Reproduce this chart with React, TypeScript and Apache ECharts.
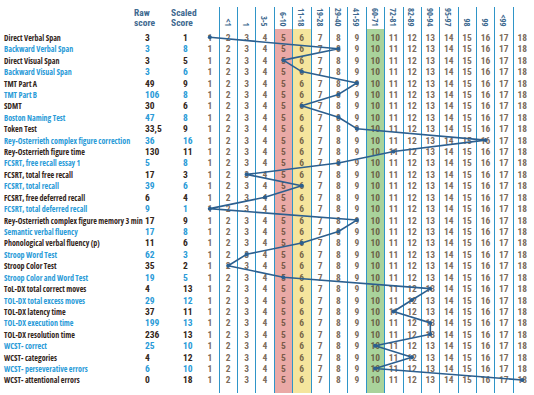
import React, { useEffect, useRef } from "react";
import * as echarts from "echarts";

const rowNames = [
  "Direct Verbal Span",
  "Backward Verbal Span",
  "Direct Visual Span",
  "Backward Visual Span",
  "TMT Part A",
  "TMT Part B",
  "SDMT",
  "Boston Naming Test",
  "Token Test",
  "Rey-Osterrieth complex figure correction",
  "Rey-Osterrieth figure time",
  "FCSRT, free recall essay 1",
  "FCSRT, total free recall",
  "FCSRT, total recall",
  "FCSRT, free deferred recall",
  "FCSRT, total deferred recall",
  "Rey-Osterrieth complex figure memory 3 min",
  "Semantic verbal fluency",
  "Phonological verbal fluency (p)",
  "Stroop Word Test",
  "Stroop Color Test",
  "Stroop Color and Word Test",
  "ToL-DX total correct moves",
  "TOL-DX total excess moves",
  "TOL-DX latency time",
  "TOL-DX execution time",
  "TOL-DX resolution time",
  "WCST- correct",
  "WCST- categories",
  "WCST- perseverative errors",
  "WCST- attentional errors",
];

const rawScores = [
  "3", "3", "3", "3", "49", "106", "30", "47", "33,5", "36", "130", "5", "17", "39", "6", "9",
  "17", "17", "11", "62", "35", "19", "4", "29", "37", "199", "236", "25", "4", "6", "0",
];

const scaledScores = [
  1, 8, 5, 6, 9, 8, 6, 8, 9, 16, 11, 8, 3, 6, 4, 1, 9, 8, 6, 3, 2, 5, 13, 12, 11, 13, 13, 10, 12, 10, 18,
];

const columns = ["1", "2", "3", "4", "5", "6", "7", "8", "9", "10", "11", "12", "13", "14", "15", "16", "17", "18"];

const percentileLabels = [
  "", "<1", "1", "3-5", "6-10", "11-18", "19-28", "29-40", "41-59", "60-71",
  "72-81", "82-89", "90-94", "95-97", "98", "99", "<99", "",
];

const bandColumns = ["5", "6", "10"];
const bandColors = ["#eaa9a6", "#f5e59d", "#a9d39b"];

const FONT = "'Open Sans', 'Roboto', sans-serif";
const NUMFONT = "Roboto, 'Open Sans', sans-serif";
const DARK = "#33261a";
const BLUE = "#2a9bd8";
const DIGIT = "#5a4530";
const HEAD = "#3f6a90";

const GL = 200.6;
const GR = 2.6;
const ROW_TOP = 31.6;
const ROW_BOTTOM = 9.3;

const rowColor = (_v: any, i: number) => (i % 2 ? BLUE : DARK);

function labelAxis(gridIndex: number, data: string[], margin: number, fontSize: number, fontFamily: string) {
  return {
    gridIndex,
    type: "category",
    data,
    inverse: true,
    boundaryGap: true,
    axisLine: { show: false },
    axisTick: { show: false },
    splitLine: { show: false },
    axisLabel: {
      show: true,
      interval: 0,
      align: "left",
      margin,
      color: rowColor,
      fontFamily,
      fontSize,
      fontWeight: "bold",
    },
  };
}

export default function App() {
  const ref = useRef<HTMLDivElement>(null);
  useEffect(() => {
    if (!ref.current) return;
    const chart = echarts.init(ref.current, null, { renderer: "svg" });

    const digitData: any[] = [];
    rowNames.forEach((_, r) => {
      columns.forEach((c) => {
        digitData.push([c, r]);
      });
    });

    const hiddenX = (gridIndex: number) => ({
      gridIndex,
      type: "category",
      data: columns,
      boundaryGap: true,
      axisLine: { show: false },
      axisTick: { show: false },
      axisLabel: { show: false },
      splitLine: { show: false },
    });

    const option: any = {
      animation: false,
      backgroundColor: "#ffffff",
      grid: [
        { left: GL, right: GR, top: 7, bottom: 2 },
        { left: GL, right: GR, top: 29, bottom: 2 },
        { left: GL, right: GR, top: ROW_TOP, bottom: ROW_BOTTOM },
        { left: 145, width: 1, top: ROW_TOP, bottom: ROW_BOTTOM },
        { left: 183, width: 1, top: ROW_TOP, bottom: ROW_BOTTOM },
      ],
      xAxis: [
        {
          gridIndex: 0,
          type: "category",
          data: columns,
          boundaryGap: true,
          z: 2,
          axisLine: { show: false },
          axisTick: { show: false },
          axisLabel: { show: false },
          splitLine: {
            show: true,
            interval: 0,
            showMinLine: false,
            showMaxLine: false,
            lineStyle: { color: "#2f95c8", width: 1 },
          },
        },
        hiddenX(1),
        {
          gridIndex: 2,
          type: "category",
          data: columns,
          position: "top",
          boundaryGap: true,
          axisLine: { show: false },
          axisTick: { show: false },
          splitLine: { show: false },
          axisLabel: {
            show: true,
            interval: 0,
            rotate: 90,
            margin: 5,
            color: HEAD,
            fontFamily: FONT,
            fontSize: 8.5,
            fontWeight: "bold",
            formatter: (_v: string, i: number) => percentileLabels[i],
          },
        },
        hiddenX(3),
        hiddenX(4),
      ],
      yAxis: [
        { gridIndex: 0, type: "value", min: 0, max: 1, show: false },
        { gridIndex: 1, type: "value", min: 0, max: 1, show: false },
        labelAxis(2, rowNames, GL - 4, 8, FONT),
        labelAxis(3, rawScores, 0, 9.5, NUMFONT),
        labelAxis(4, scaledScores.map(String), 0, 9.5, NUMFONT),
      ],
      graphic: [
        {
          type: "text",
          left: 134,
          top: 7,
          style: {
            text: "Raw\nscore",
            fill: HEAD,
            fontFamily: NUMFONT,
            fontSize: 9.5,
            fontWeight: "bold",
            align: "center",
            lineHeight: 10.5,
            width: 28,
          },
        },
        {
          type: "text",
          left: 171,
          top: 7,
          style: {
            text: "Scaled\nScore",
            fill: HEAD,
            fontFamily: NUMFONT,
            fontSize: 9.5,
            fontWeight: "bold",
            align: "center",
            lineHeight: 10.5,
            width: 28,
          },
        },
      ],
      series: [
        {
          type: "bar",
          xAxisIndex: 1,
          yAxisIndex: 1,
          z: 1,
          barCategoryGap: "0%",
          silent: true,
          data: columns.map((c) => {
            const b = bandColumns.indexOf(c);
            return b >= 0 ? { value: 1, itemStyle: { color: bandColors[b] } } : "-";
          }),
        },
        {
          type: "scatter",
          xAxisIndex: 2,
          yAxisIndex: 2,
          z: 3,
          symbolSize: 1,
          itemStyle: { color: "rgba(0,0,0,0)" },
          silent: true,
          data: digitData,
          label: {
            show: true,
            position: "inside",
            color: DIGIT,
            fontFamily: NUMFONT,
            fontSize: 9.5,
            fontWeight: "bold",
            formatter: (p: any) => p.value[0],
          },
        },
        {
          type: "line",
          xAxisIndex: 2,
          yAxisIndex: 2,
          z: 4,
          symbol: "circle",
          symbolSize: 4,
          lineStyle: { color: "#2c5f8f", width: 1.6 },
          itemStyle: { color: "#2c5f8f" },
          data: scaledScores.map((s, i) => [String(s), rowNames[i]]),
        },
      ],
    };

    chart.setOption(option);
    return () => chart.dispose();
  }, []);

  return (
    <div
      ref={ref}
      style={{ position: "fixed", left: 0, top: 0, width: 534, height: 395, fontStretch: "condensed" }}
    />
  );
}
